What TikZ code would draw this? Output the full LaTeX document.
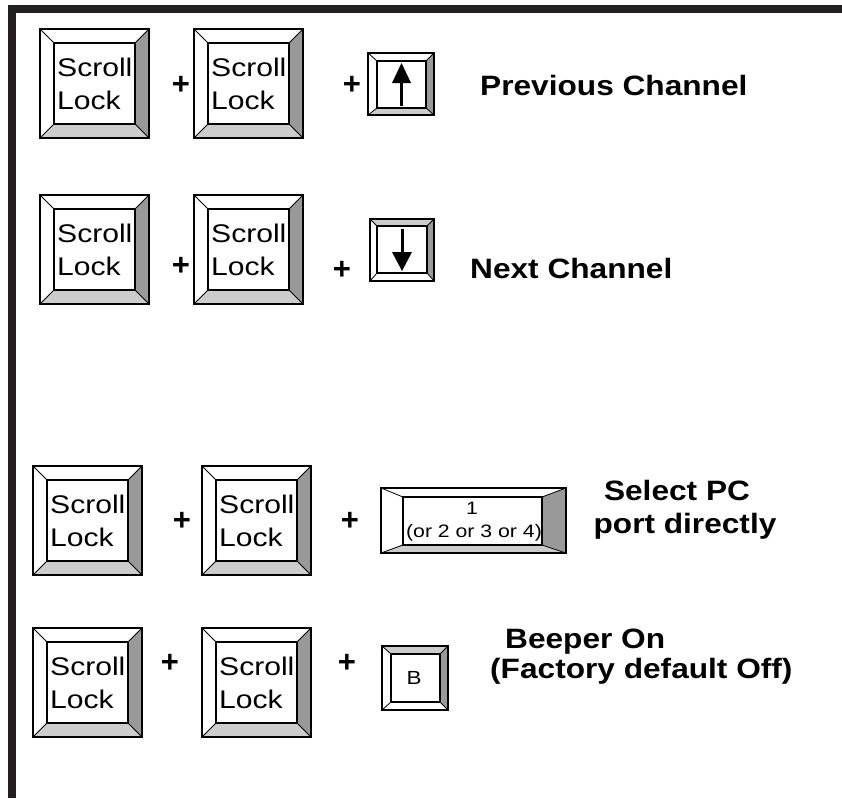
\documentclass[tikz,border=0pt]{standalone}
\usepackage{fontspec}
\setmainfont{Liberation Sans}
\newfontfamily\keyfont[FakeStretch=1.18]{Liberation Sans}
\newfontfamily\capfont[FakeStretch=1.13]{Liberation Sans}
\usepackage{xcolor}
\definecolor{keydark}{RGB}{153,153,153}
\definecolor{keylight}{RGB}{204,204,204}
\definecolor{framecol}{RGB}{35,31,32}
\tikzset{>=latex,
  raised/.code={\def\topcol{white}\def\botcol{keylight}},
  sunk/.code={\def\topcol{keylight}\def\botcol{white}},
  plus/.style={font=\bfseries\fontsize{31}{31}\selectfont,inner sep=0pt},
  caption/.style={font=\capfont\bfseries\fontsize{28}{28}\selectfont,inner sep=0pt,anchor=base west},
  keytxt/.style={font=\keyfont\fontsize{25.5}{25.5}\selectfont,inner sep=0pt,anchor=base west},
  smalltxt/.style={font=\keyfont\fontsize{18}{18}\selectfont,inner sep=0pt,anchor=base}
}
% a key: outer corners, inner corners, bevel
\def\keycap(#1,#2)(#3,#4)(#5,#6)(#7,#8)#9{%
  \begin{scope}[#9]
  \fill[white] (#1,#2) -- (#5,#6) -- (#5,#8) -- (#1,#4) -- cycle;
  \fill[fill=\topcol] (#1,#2) -- (#3,#2) -- (#7,#6) -- (#5,#6) -- cycle;
  \fill[keydark] (#3,#2) -- (#3,#4) -- (#7,#8) -- (#7,#6) -- cycle;
  \fill[fill=\botcol] (#1,#4) -- (#3,#4) -- (#7,#8) -- (#5,#8) -- cycle;
  \draw[line width=0.8pt] (#1,#2) -- (#5,#6) (#3,#2) -- (#7,#6) (#3,#4) -- (#7,#8) (#1,#4) -- (#5,#8);
  \draw[line width=1.6pt] (#5,#6) rectangle (#7,#8);
  \draw[line width=2pt] (#1,#2) rectangle (#3,#4);
  \end{scope}}
% the scroll lock key
\def\slkey#1(#2,#3){%
  \keycap(#2,#3)(#2+109,#3+109)(#2+14,#3+14)(#2+95,#3+95){raised}
  \node[keytxt] (#1s) at (#2+17,#3+47) {Scroll};
  \node[keytxt] (#1l) at (#2+17,#3+80) {Lock};}

\begin{document}
\begin{tikzpicture}[x=1pt,y=-1pt]
  \useasboundingbox (0,0) rectangle (842,798);
  \fill[framecol] (8,5) rectangle (842,13);
  \fill[framecol] (8,5) rectangle (16,798);

  % previous channel
  \slkey{sla}(40,29)
  \node[plus] (pa1) at (181,85) {+};
  \slkey{slb}(194,29)
  \node[plus] (pa2) at (352,85) {+};
  \keycap(368,53)(434,115)(377,61)(426,108){raised}
  \draw[line width=3pt] (401.5,106) -- (401.5,80);
  \fill (401.5,63) -- (411,83) -- (392,83) -- cycle;
  \node[caption] (prev) at (480,95) {Previous Channel};

  % next channel
  \slkey{slc}(40,195)
  \node[plus] (pb1) at (181,266) {+};
  \slkey{sld}(194,195)
  \node[plus] (pb2) at (342,270) {+};
  \keycap(370,219)(434,281)(377,226)(427,273){sunk}
  \draw[line width=3pt] (402,229) -- (402,255);
  \fill (392,252) -- (412,252) -- (402,271) -- cycle;
  \node[caption] (next) at (470,278) {Next Channel};

  % select port
  \slkey{sle}(33,466)
  \node[plus] (pc1) at (182,521) {+};
  \slkey{slf}(202,466)
  \node[plus] (pc2) at (350,521) {+};
  \keycap(381,488)(566,553)(403,497)(542,545){raised}
  \node[smalltxt] (one) at (472,514) {1};
  \node[smalltxt] (alt) at (474,537) {(or 2 or 3 or 4)};
  \node[caption,anchor=base] (sel) at (677,500) {Select PC};
  \node[caption,anchor=base] (port) at (685,533) {port directly};

  % beeper
  \slkey{slg}(33,628)
  \node[plus] (pd1) at (170,663) {+};
  \slkey{slh}(202,628)
  \node[plus] (pd2) at (347,663) {+};
  \keycap(382,646)(448,710)(391,654)(440,702){sunk}
  \node[smalltxt,font=\keyfont\fontsize{19}{19}\selectfont] (bkey) at (414,684.5) {B};
  \node[caption] (beep) at (505,648) {Beeper On};
  \node[caption] (fact) at (490,678) {(Factory default Off)};
\end{tikzpicture}
\end{document}
